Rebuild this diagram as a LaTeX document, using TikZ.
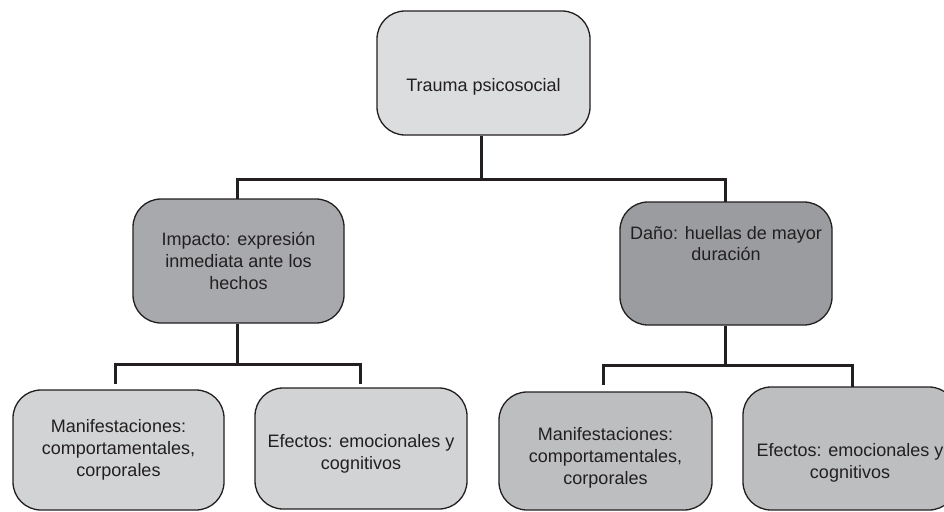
\documentclass[tikz,border=0pt]{standalone}
\usepackage{fontspec}
\setmainfont{Liberation Sans}
\definecolor{ink}{HTML}{231F20}
\definecolor{cTop}{HTML}{DCDDDF}
\definecolor{cImp}{HTML}{A7A9AC}
\definecolor{cDan}{HTML}{9A9C9F}
\definecolor{cBL}{HTML}{D1D3D4}
\definecolor{cBR}{HTML}{BCBEC0}
\tikzset{
  box/.style={draw=ink, line width=1.3pt, rounded corners=28pt, inner sep=0pt},
  txt/.style={align=center, text=ink, font=\fontsize{18}{21.7}\selectfont, inner sep=0pt},
  conn/.style={draw=ink, line width=3pt}
}
\begin{document}
\begin{tikzpicture}[x=1pt,y=-1pt]
\clip (0,0) rectangle (944,511);
\useasboundingbox (0,0) rectangle (944,511);
% boxes
\node[box, fill=cTop, minimum width=213pt, minimum height=124pt] (top) at (483.5,73) {};
\node[box, fill=cImp, minimum width=211pt, minimum height=124pt] (imp) at (238.5,261) {};
\node[box, fill=cDan, minimum width=212pt, minimum height=123pt] (dan) at (726,263.5) {};
\node[box, fill=cBL, minimum width=211pt, minimum height=120pt] (b1) at (118.5,450) {};
\node[box, fill=cBL, minimum width=212pt, minimum height=121pt] (b2) at (361,448.5) {};
\node[box, fill=cBR, minimum width=213pt, minimum height=118pt] (b3) at (605.5,451) {};
\node[box, fill=cBR, minimum width=214pt, minimum height=123pt] (b4) at (850,448.5) {};
% texts
\node[txt] (topt) at ([yshift=-14pt]top.center) {Trauma psicosocial};
\node[txt] (impt) at (imp.center) {Impacto: expresión\\inmediata ante los\\hechos};
\node[txt] (dant) at ([yshift=20pt]dan.center) {Daño: huellas de mayor\\duración};
\node[txt] (b1t) at (b1.center) {Manifestaciones:\\comportamentales,\\corporales};
\node[txt] (b2t) at ([yshift=-5pt]b2.center) {Efectos: emocionales y\\cognitivos};
\node[txt] (b3t) at ([yshift=-7pt]b3.center) {Manifestaciones:\\comportamentales,\\corporales};
\node[txt] (b4t) at ([yshift=-14pt]b4.center) {Efectos: emocionales y\\cognitivos};
% connectors
\coordinate (j1) at (481,179);
\coordinate (j2) at (237,364);
\coordinate (j3) at (725,365);
\draw[conn] (top.south -| j1) -- (j1);
\draw[conn] (237,199) -- (237,179) -- (725,179) -- (725,202);
\draw[conn] (imp.south -| j2) -- (j2);
\draw[conn] (115,384) -- (115,364) -- (360,364) -- (360,384);
\draw[conn] (dan.south -| j3) -- (j3);
\draw[conn] (603,385) -- (603,365) -- (852,365) -- (852,387);
\end{tikzpicture}
\end{document}
